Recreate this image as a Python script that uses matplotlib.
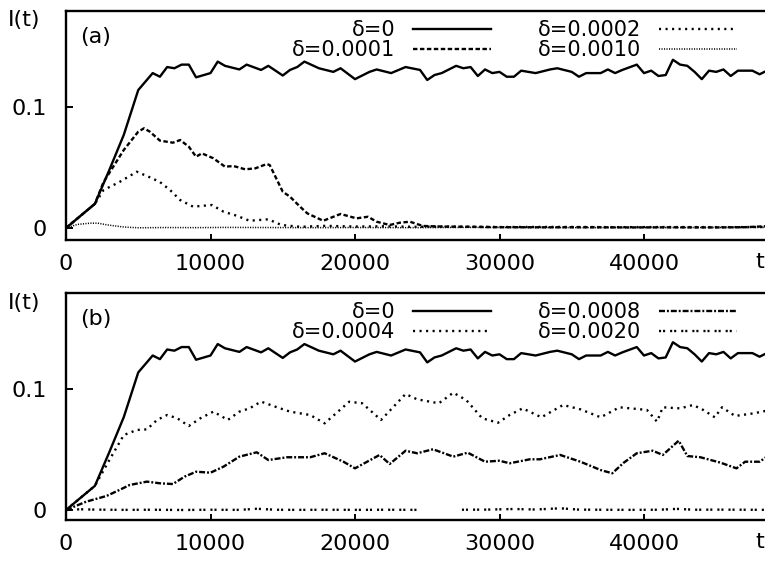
import numpy as np
import matplotlib
matplotlib.use('Agg')
import matplotlib.pyplot as plt
from matplotlib.transforms import blended_transform_factory

plt.rcParams['font.family'] = ['DejaVu Sans']
plt.rcParams['lines.scale_dashes'] = False

# delta = 0 (same run in both panels)
t_d0 = [0, 1000, 2000, 3000, 4000, 5000, 6000, 6500, 7000, 7500, 8000, 8500, 9000, 10000, 10500,
        11000, 12000, 12500, 13500, 14000, 15000, 15500, 16000, 16500, 17500, 18500, 19000, 20000,
        21000, 21500, 22500, 23500, 24500, 25000, 25500, 26000, 27000, 27500, 28000, 28500, 29000,
        29500, 30000, 30500, 31000, 31500, 32500, 33500, 34000, 35000, 35500, 36000, 37000, 37500,
        38000, 38500, 39500, 40000, 40500, 41000, 41500, 42000, 42500, 43000, 43500, 44000, 44500,
        45000, 45500, 46000, 46500, 47500, 48000, 48500]
i_d0 = [0, 0.010, 0.020, 0.048, 0.077, 0.114, 0.128, 0.125, 0.133, 0.132, 0.135, 0.135, 0.1245, 0.128,
        0.1375, 0.134, 0.131, 0.135, 0.1306, 0.134, 0.126, 0.1306, 0.133, 0.1375, 0.132, 0.129, 0.132,
        0.123, 0.129, 0.131, 0.128, 0.133, 0.1306, 0.1223, 0.1264, 0.128, 0.134, 0.132, 0.133, 0.1256,
        0.131, 0.128, 0.129, 0.125, 0.125, 0.130, 0.128, 0.131, 0.132, 0.129, 0.125, 0.128, 0.128, 0.131,
        0.128, 0.1306, 0.135, 0.128, 0.130, 0.1256, 0.1264, 0.139, 0.135, 0.134, 0.129, 0.123, 0.130,
        0.129, 0.131, 0.1256, 0.130, 0.130, 0.127, 0.130]

# panel (a)
t_d1 = [0, 1000, 2000, 2600, 4000, 5000, 5400, 5800, 6500, 7400, 7900, 8500, 9000, 9400, 10200, 11000,
        11600, 12400, 13100, 13900, 14100, 15000, 15500, 16200, 16700, 17800, 19000, 20100, 20900,
        21500, 22400, 23100, 23800, 24700, 26000, 28000, 30000, 33000, 36000, 39000, 42000, 45000,
        47000, 48500]
i_d1 = [0, 0.010, 0.020, 0.038, 0.0645, 0.0796, 0.0824, 0.0796, 0.0722, 0.0705, 0.0727, 0.0672, 0.0589,
        0.0617, 0.0576, 0.0507, 0.0512, 0.0485, 0.0493, 0.0529, 0.052, 0.030, 0.0259, 0.0176, 0.0121,
        0.006, 0.0116, 0.008, 0.0093, 0.0052, 0.0025, 0.0044, 0.0052, 0.0017, 0.0012, 0.001, 0.0007,
        0.0006, 0.0007, 0.0005, 0.0006, 0.0005, 0.0007, 0.0015]

t_d2 = [0, 1000, 2000, 2600, 3700, 4900, 5800, 6500, 7200, 7900, 8800, 9300, 10100, 10900, 11800,
        12700, 14000, 14900, 16200, 18000, 20000, 22000, 24000, 26000, 30000, 34000, 38000, 42000,
        46000, 48500]
i_d2 = [0, 0.010, 0.020, 0.0314, 0.038, 0.0465, 0.0419, 0.038, 0.0314, 0.0231, 0.0176, 0.0182, 0.019,
        0.0135, 0.0102, 0.006, 0.0072, 0.0025, 0.001, 0.0018, 0.0012, 0.0014, 0.0010, 0.0012, 0.0008,
        0.0009, 0.0007, 0.0008, 0.0007, 0.0009]

t_d10 = [0, 800, 1700, 2200, 2900, 4000, 5000, 7000, 9000, 11000, 14000, 17000, 20000, 24000, 28000,
         32000, 36000, 40000, 44000, 48500]
i_d10 = [0, 0.003, 0.004, 0.004, 0.0025, 0.0008, 0.0002, 0.0004, 0.0003, 0.0005, 0.0004, 0.0003,
         0.0004, 0.0003, 0.0005, 0.0004, 0.0003, 0.0004, 0.0004, 0.0005]

# panel (b)
t_d4 = [0, 1000, 2000, 3000, 4000, 4900, 5600, 6300, 7000, 7700, 8500, 9300, 10200, 11200, 12000,
        12700, 13500, 14600, 15500, 16900, 17900, 19600, 20500, 21800, 23500, 24300, 25800, 26800,
        27700, 28800, 29900, 30700, 31600, 32900, 34400, 35600, 37000, 38300, 40200, 40900, 41300,
        42500, 43400, 44100, 44900, 45400, 46300, 47600, 48500]
i_d4 = [0, 0.010, 0.020, 0.0414, 0.0621, 0.0663, 0.0668, 0.0746, 0.0787, 0.076, 0.0696, 0.076, 0.0815,
        0.0746, 0.0815, 0.0842, 0.0898, 0.0851, 0.0815, 0.0787, 0.0718, 0.0897, 0.0884, 0.0746, 0.0961,
        0.0917, 0.0884, 0.0972, 0.0911, 0.076, 0.0723, 0.0787, 0.0842, 0.0768, 0.087, 0.0834, 0.0768,
        0.0851, 0.0829, 0.0732, 0.0851, 0.0842, 0.087, 0.0829, 0.0768, 0.0851, 0.0779, 0.0801, 0.0823]

t_d8 = [0, 1400, 2800, 3700, 4400, 5600, 6500, 7400, 8200, 9000, 10000, 10900, 12000, 13200, 14000,
        15300, 16900, 17900, 19200, 20000, 21700, 22400, 23500, 24300, 25400, 26800, 27800, 29000,
        30000, 30700, 32100, 32800, 34200, 35600, 37000, 37800, 38600, 39500, 40600, 41300, 42400,
        43000, 43900, 45300, 46400, 47000, 48000, 48500]
i_d8 = [0, 0.0069, 0.0116, 0.0166, 0.0207, 0.0235, 0.0221, 0.0215, 0.0276, 0.0317, 0.0309, 0.0359,
        0.0442, 0.0478, 0.0414, 0.0437, 0.0437, 0.047, 0.040, 0.0345, 0.0456, 0.0381, 0.0491, 0.047,
        0.0503, 0.0442, 0.0475, 0.040, 0.0408, 0.0387, 0.042, 0.042, 0.0456, 0.040, 0.0331, 0.0304,
        0.0392, 0.047, 0.0491, 0.0456, 0.0574, 0.0447, 0.0437, 0.0392, 0.0345, 0.040, 0.040, 0.0442]

# gap in the 0.0020 curve around t = 25000
t_d20 = [0, 1000, 2000, 4000, 6000, 8000, 10000, 12000, 13200, 14500, 16000, 18000, 20000, 22000,
         24300, 25800, 27400, 29000, 31000, 32500, 34200, 35500, 37000, 39000, 41000, 42300, 43500,
         45000, 47000, 48500]
i_d20 = [0, 0.0006, 0.0003, 0.0001, 0.0002, 0.0, 0.0002, 0.0001, 0.0010, 0.0002, 0.0001, 0.0002,
         0.0001, 0.0002, 0.0001, np.nan, 0.0002, 0.0003, 0.0008, 0.0004, 0.0014, 0.0003, 0.0002, 0.0001,
         0.0002, 0.0009, 0.0002, 0.0003, 0.0002, 0.0001]

xticks = [0, 10000, 20000, 30000, 40000]
xticklabels = ['0', '10000', '20000', '30000', '40000']
yticks = [0, 0.1]
yticklabels = ['0', '0.1']

# line styles (points)
solid = '-'
dashed = (0, (3.2, 1.8))
dotted = (0, (1.5, 3.2))
fine_dotted = (0, (0.8, 1.0))
dashdot = (0, (4.3, 1.4, 1.4, 1.4))
pairdot = (0, (1.5, 1.4, 1.5, 3.6))

W, H = 765, 563
fig = plt.figure(figsize=(W / 100, H / 100), dpi=100)

left = 66 / W
width = (5 * 144.5) / W   # axis runs past the right edge of the picture

ax_a = fig.add_axes([left, 1 - 240 / H, width, 229 / H])
ax_b = fig.add_axes([left, 1 - 520 / H, width, 227 / H])

lw = 1.7
ax_a.plot(t_d0, i_d0, color='black', lw=lw, linestyle=solid, label='δ=0')
ax_a.plot(t_d1, i_d1, color='black', lw=lw, linestyle=dashed, label='δ=0.0001')
ax_a.plot(t_d2, i_d2, color='black', lw=lw, linestyle=dotted, label='δ=0.0002')
ax_a.plot(t_d10, i_d10, color='black', lw=1.1, linestyle=fine_dotted, label='δ=0.0010')

ax_b.plot(t_d0, i_d0, color='black', lw=lw, linestyle=solid, label='δ=0')
ax_b.plot(t_d4, i_d4, color='black', lw=lw, linestyle=dotted, label='δ=0.0004')
ax_b.plot(t_d8, i_d8, color='black', lw=lw, linestyle=dashdot, label='δ=0.0008')
ax_b.plot(t_d20, i_d20, color='black', lw=lw, linestyle=pairdot, label='δ=0.0020')

ax_a.set_ylim(-0.0099, 0.1793)
ax_b.set_ylim(-0.0083, 0.1798)

for ax, tag in [(ax_a, '(a)'), (ax_b, '(b)')]:
    ax.set_xlim(0, 50000)
    ax.set_xticks(xticks)
    ax.set_xticklabels(xticklabels)
    ax.set_yticks(yticks)
    ax.set_yticklabels(yticklabels)
    ax.tick_params(axis='x', direction='in', length=4, width=1.4, pad=10, labelsize=16)
    ax.tick_params(axis='y', direction='in', length=5, width=1.4, pad=14, labelsize=16)
    for s in ax.spines.values():
        s.set_linewidth(1.7)
    ax.text(0.02, 0.885, tag, transform=ax.transAxes, fontsize=16, ha='left', va='center')
    trans = blended_transform_factory(ax.transData, ax.transAxes)
    ax.text(48000, -0.096, 't', transform=trans, fontsize=16, ha='center', va='center')
    ax.legend(ncol=2, loc='upper right', bbox_to_anchor=(0.929, 0.96), frameon=False,
              markerfirst=False, fontsize=15, handlelength=3.75, handletextpad=0.85,
              columnspacing=2.25, labelspacing=0.0, borderpad=0, borderaxespad=0)

fig.text(8 / W, 1 - 20 / H, 'I(t)', fontsize=16, ha='left', va='center')
fig.text(8 / W, 1 - 303 / H, 'I(t)', fontsize=16, ha='left', va='center')

fig.savefig('out.png', dpi=100)
